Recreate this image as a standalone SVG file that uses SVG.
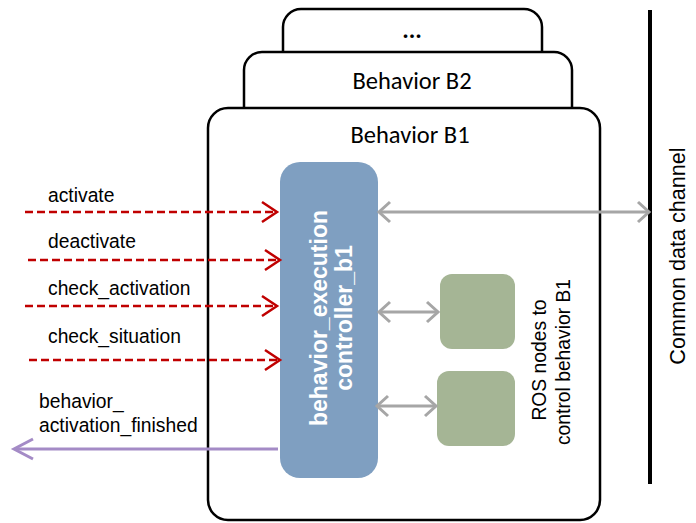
<svg xmlns="http://www.w3.org/2000/svg" width="696" height="523" viewBox="0 0 696 523">
<style>
.frame{fill:#fff;stroke:#000;stroke-width:2.5}
.title{font-family:Carlito,Calibri,"Liberation Sans",sans-serif;font-size:24.5px;fill:#000;text-anchor:middle}
.lbl{font-family:"Liberation Sans",Arial,sans-serif;font-size:19.3px;fill:#000}
.red{stroke:#C00000;stroke-width:2.5;stroke-dasharray:8 4;fill:none}
.redhead{stroke:#C00000;stroke-width:2.5;fill:none}
.gray{stroke:#A6A6A6;stroke-width:3;fill:none}
.purple{stroke:#A48BC6;stroke-width:3;fill:none}
.ctl{font-family:"Liberation Sans",Arial,sans-serif;font-size:23px;font-weight:bold;fill:#fff;text-anchor:middle}
</style>
<g id="behavior-dots"><rect class="frame" x="283" y="9" width="259" height="80" rx="18"/><text class="title" x="412" y="38" font-weight="bold">...</text></g>
<g id="behavior-b2"><rect class="frame" x="244" y="52" width="328" height="90" rx="18"/><text class="title" x="412" y="89">Behavior B2</text></g>
<g id="behavior-b1"><rect class="frame" x="208" y="108" width="392" height="412" rx="20"/><text class="title" x="410" y="143">Behavior B1</text></g>
<g id="channel"><line x1="650" y1="10" x2="650" y2="484" stroke="#000" stroke-width="4"/><text class="lbl" style="font-size:21.6px" transform="translate(685,256) rotate(-90)" text-anchor="middle">Common data channel</text></g>
<g id="controller"><rect x="280" y="162" width="98" height="316" rx="20" fill="#7F9FC1"/><text class="ctl" transform="translate(327,318) rotate(-90)">behavior_execution</text><text class="ctl" transform="translate(352,318) rotate(-90)">controller_b1</text></g>
<g id="ros-node-1"><rect x="440" y="274" width="75" height="75" rx="12" fill="#A5B595"/></g>
<g id="ros-node-2"><rect x="437" y="371" width="78" height="75" rx="12" fill="#A5B595"/></g>
<g id="ros-label"><text class="lbl" transform="translate(546,360) rotate(-90)" text-anchor="middle">ROS nodes to</text><text class="lbl" transform="translate(570,362) rotate(-90)" text-anchor="middle">control behavior B1</text></g>
<g id="connectors">
<line class="red" x1="25" y1="212" x2="276" y2="212"/><polyline class="redhead" points="262,202 277,212 262,222"/>
<line class="red" x1="28" y1="260" x2="279" y2="260"/><polyline class="redhead" points="265,250 280,260 265,270"/>
<line class="red" x1="25" y1="306" x2="276" y2="306"/><polyline class="redhead" points="262,296 277,306 262,316"/>
<line class="red" x1="29" y1="360" x2="279" y2="360"/><polyline class="redhead" points="265,350 280,360 265,370"/>
<line class="purple" x1="278" y1="449" x2="15" y2="449"/><polyline class="purple" points="33,439 14,449 33,459"/>
<line class="gray" x1="380" y1="212" x2="648" y2="212"/><polyline class="gray" points="390,202 379,212 390,222"/><polyline class="gray" points="638,202 649,212 638,222"/>
<line class="gray" x1="380" y1="312" x2="437" y2="312"/><polyline class="gray" points="390,302 379,312 390,322"/><polyline class="gray" points="427,302 438,312 427,322"/>
<line class="gray" x1="378" y1="406" x2="435" y2="406"/><polyline class="gray" points="388,396 377,406 388,416"/><polyline class="gray" points="425,396 436,406 425,416"/>
</g>
<g id="labels">
<text class="lbl" x="48" y="202">activate</text>
<text class="lbl" x="48" y="248">deactivate</text>
<text class="lbl" x="48" y="295">check_activation</text>
<text class="lbl" x="48" y="343">check_situation</text>
<text class="lbl" x="39" y="408">behavior_</text>
<text class="lbl" x="39" y="432">activation_finished</text>
</g>
</svg>
